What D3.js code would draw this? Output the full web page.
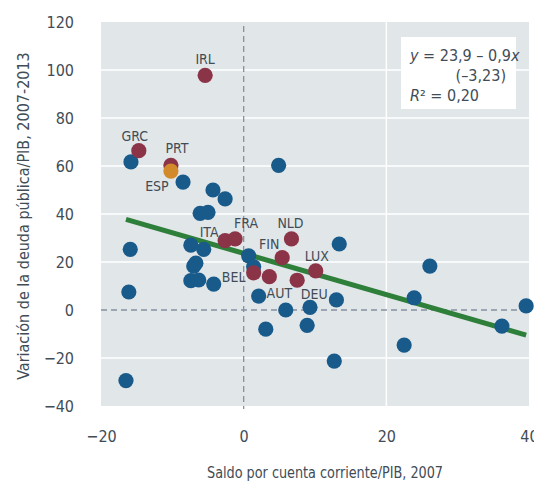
<!DOCTYPE html>
<html>
<head>
<meta charset="utf-8">
<script src="https://cdn.jsdelivr.net/npm/d3@7/dist/d3.min.js"></script>
<style>
  body { margin: 0; background: #fff; }
  text { font-family: "Liberation Sans Narrow", "DejaVu Sans Condensed", "Roboto Condensed", sans-serif; fill: #414c56; }
</style>
</head>
<body>
<svg id="chart"></svg>
<script>
// current account / GDP 2007 (x) vs change in public debt / GDP 2007-2013 (y)
const otherX = [-15.8, -8.5, -4.3, -2.6, 4.9, -6.1, -5.0, -15.9, -7.4, -5.6, -7.0, -6.7, -7.4, -6.3, -4.2, -16.1, -16.5,
  0.7, 1.4, 2.1, 5.9, 9.3, 13.0, 3.1, 8.9, 12.7, 13.4, 26.1, 23.9, 22.5, 36.2, 39.6];
const otherY = [61.7, 53.3, 50.0, 46.3, 60.3, 40.3, 40.7, 25.3, 27.0, 25.3, 18.3, 19.5, 12.2, 12.5, 10.8, 7.5, -29.4,
  22.6, 18.0, 5.8, 0.0, 1.1, 4.2, -8.0, -6.4, -21.3, 27.5, 18.3, 5.1, -14.6, -6.7, 1.7];

const euroNames = ['IRL', 'GRC', 'PRT', 'ITA', 'FRA', 'NLD', 'FIN', 'LUX', 'BEL', 'AUT', 'DEU'];
const euroX = [-5.4, -14.7, -10.2, -2.6, -1.2, 6.7, 5.4, 10.1, 1.4, 3.6, 7.5];
const euroY = [97.8, 66.4, 60.3, 28.9, 29.6, 29.6, 21.8, 16.3, 15.5, 13.9, 12.4];

const espName = 'ESP';
const espX = -10.2;
const espY = 57.9;

// fitted line as drawn (unrounded coefficients)
const fitIntercept = 23.6;
const fitSlope = -0.86;
const fitLines = ['y = 23,9 – 0,9x', '(–3,23)', 'R² = 0,20'];

const xTicks = [-20, 0, 20, 40];
const yTicks = [-40, -20, 0, 20, 40, 60, 80, 100, 120];

const xTitle = 'Saldo por cuenta corriente/PIB, 2007';
const yTitle = 'Variación de la deuda pública/PIB,  2007-2013';

// label placement relative to the dot (px)
const labelOffset = {
  IRL: [0, -11], GRC: [-4, -10], PRT: [6, -12], ESP: [-14, 20], ITA: [-16, -4], FRA: [11, -11],
  NLD: [-1, -11], FIN: [-13, -9], LUX: [1, -10], BEL: [-20, 9], AUT: [10, 21], DEU: [17, 19]
};

const W = 534, H = 482;
const margin = { top: 22, right: 5, bottom: 76, left: 101 };

const svg = d3.select('#chart').attr('width', W).attr('height', H);

const x = d3.scaleLinear().domain([-20, 40]).range([margin.left, W - margin.right]);
const y = d3.scaleLinear().domain([-40, 120]).range([H - margin.bottom, margin.top]);

// background
svg.append('rect')
  .attr('x', x(-20)).attr('y', y(120))
  .attr('width', x(40) - x(-20)).attr('height', y(-40) - y(120))
  .attr('fill', '#e1e6e9');

// white grid
svg.append('g').selectAll('line')
  .data(yTicks.filter(d => d !== 0 && d !== -40 && d !== 120))
  .enter().append('line')
  .attr('x1', x(-20)).attr('x2', x(40))
  .attr('y1', d => y(d)).attr('y2', d => y(d))
  .attr('stroke', '#fff').attr('stroke-width', 1.5);

svg.append('g').selectAll('line')
  .data(xTicks.filter(d => d === 20))
  .enter().append('line')
  .attr('x1', d => x(d)).attr('x2', d => x(d))
  .attr('y1', y(120)).attr('y2', y(-40))
  .attr('stroke', '#fff').attr('stroke-width', 1.5);

// dashed zero lines
svg.append('line')
  .attr('x1', x(-20)).attr('x2', x(40)).attr('y1', y(0)).attr('y2', y(0))
  .attr('stroke', '#8591a0').attr('stroke-width', 1.3).attr('stroke-dasharray', '6,4');
svg.append('line')
  .attr('x1', x(0)).attr('x2', x(0)).attr('y1', y(120) + 4).attr('y2', y(-40) + 3)
  .attr('stroke', '#8591a0').attr('stroke-width', 1.3).attr('stroke-dasharray', '6,4');

// axes (labels only)
const yAxis = svg.append('g')
  .attr('transform', `translate(${margin.left - 24},0)`)
  .call(d3.axisLeft(y).tickValues(yTicks).tickSize(0).tickFormat(d => d < 0 ? '−' + Math.abs(d) : d));
yAxis.select('.domain').remove();
yAxis.selectAll('text').attr('font-size', 16).attr('font-family', null).attr('fill', '#414c56');

const xAxis = svg.append('g')
  .attr('transform', `translate(0,${H - margin.bottom + 22})`)
  .call(d3.axisBottom(x).tickValues(xTicks).tickSize(0).tickFormat(d => d < 0 ? '−' + Math.abs(d) : d));
xAxis.select('.domain').remove();
xAxis.selectAll('text').attr('font-size', 16).attr('font-family', null).attr('fill', '#414c56');

// regression line
const allX = otherX.concat(euroX, [espX]);
const xExt = d3.extent(allX);
svg.append('line')
  .attr('x1', x(xExt[0])).attr('y1', y(fitIntercept + fitSlope * xExt[0]))
  .attr('x2', x(xExt[1])).attr('y2', y(fitIntercept + fitSlope * xExt[1]))
  .attr('stroke', '#2e7f3a').attr('stroke-width', 5);

const r = 7.6;

svg.append('g').selectAll('circle')
  .data(otherX.map((d, i) => [d, otherY[i]]))
  .enter().append('circle')
  .attr('cx', d => x(d[0])).attr('cy', d => y(d[1])).attr('r', r)
  .attr('fill', '#185a8a');

svg.append('g').selectAll('circle')
  .data(euroNames.map((n, i) => [euroX[i], euroY[i]]))
  .enter().append('circle')
  .attr('cx', d => x(d[0])).attr('cy', d => y(d[1])).attr('r', r)
  .attr('fill', '#8b3447');

svg.append('circle')
  .attr('cx', x(espX)).attr('cy', y(espY)).attr('r', r)
  .attr('fill', '#d28a2b');

// country labels
const labelled = euroNames.map((n, i) => ({ n, x: euroX[i], y: euroY[i] }))
  .concat([{ n: espName, x: espX, y: espY }]);
svg.append('g').selectAll('text')
  .data(labelled)
  .enter().append('text')
  .attr('x', d => x(d.x) + labelOffset[d.n][0])
  .attr('y', d => y(d.y) + labelOffset[d.n][1])
  .attr('text-anchor', 'middle')
  .attr('font-size', 14)
  .attr('fill', '#4c5761')
  .text(d => d.n);

// regression box
const box = svg.append('g');
box.append('rect')
  .attr('x', 401).attr('y', 37).attr('width', 115).attr('height', 72)
  .attr('fill', '#fff');
const t1 = box.append('text').attr('x', 410).attr('y', 61).attr('font-size', 16);
t1.append('tspan').attr('font-style', 'italic').text('y');
t1.append('tspan').text(' = 23,9 – 0,9');
t1.append('tspan').attr('font-style', 'italic').text('x');
box.append('text').attr('x', 506).attr('y', 81).attr('font-size', 16)
  .attr('text-anchor', 'end').text(fitLines[1]);
const t3 = box.append('text').attr('x', 410).attr('y', 101).attr('font-size', 16);
t3.append('tspan').attr('font-style', 'italic').text('R');
t3.append('tspan').text('² = 0,20');

// axis titles
svg.append('text')
  .attr('x', 207).attr('y', 478)
  .attr('font-size', 16)
  .attr('textLength', 236).attr('lengthAdjust', 'spacingAndGlyphs')
  .text(xTitle);

svg.append('text')
  .attr('transform', `translate(29,${(y(120) + y(-40)) / 2 + 2}) rotate(-90)`)
  .attr('text-anchor', 'middle').attr('font-size', 16)
  .text(yTitle);
</script>
</body>
</html>
